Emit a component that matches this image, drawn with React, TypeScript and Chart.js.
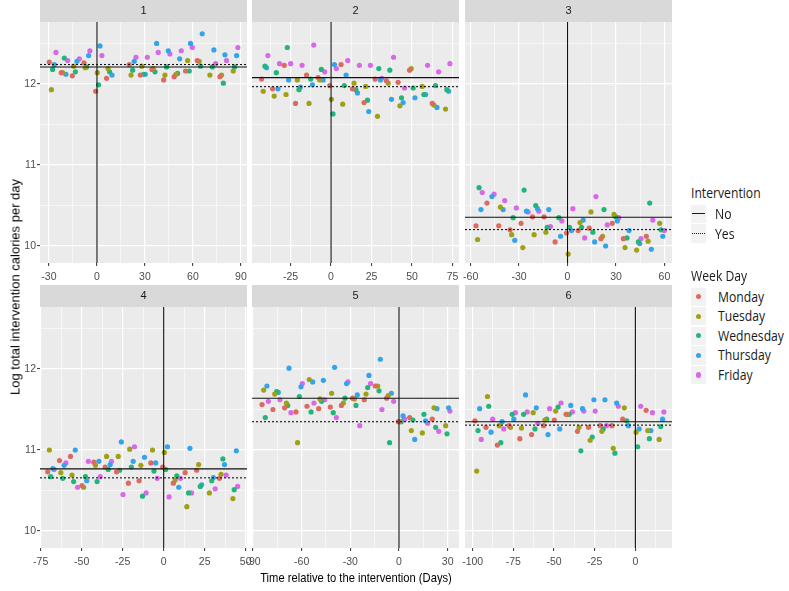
import React, { useEffect, useRef } from "react";
import { Chart, registerables } from "chart.js";

Chart.register(...registerables);
Chart.defaults.font.family = '"Liberation Sans", Arial, sans-serif';

type Pt = [number, number, string];

const WEEKDAY_NAMES = ["Monday", "Tuesday", "Wednesday", "Thursday", "Friday"];
const WEEKDAY_CODES = ["M", "T", "W", "R", "F"];
const WEEKDAY_COLORS = ["#DC6A60", "#A0A015", "#22B57A", "#34A4E8", "#D868E8"];
const PANEL_LABELS = ["1", "2", "3", "4", "5", "6"];

const P1: Pt[] = [
  [-29.8, 12.27, "M"], [-28.5, 11.93, "T"], [-27.7, 12.18, "W"], [-26.7, 12.24, "R"], [-25.6, 12.39, "F"],
  [-22.3, 12.14, "M"], [-21.5, 12.14, "T"], [-20.4, 12.32, "W"], [-19.4, 12.12, "R"], [-18.3, 12.29, "F"],
  [-15.4, 12.10, "M"], [-14.6, 12.22, "T"], [-13.5, 12.15, "W"], [-12.5, 12.28, "R"], [-11.0, 12.31, "F"],
  [-8.1, 12.26, "M"], [-7.3, 12.20, "T"], [-6.5, 12.21, "W"], [-5.2, 12.35, "R"], [-4.4, 12.41, "F"],
  [-0.8, 11.91, "M"], [0.2, 12.14, "T"], [1.0, 11.99, "W"], [1.9, 12.47, "R"], [3.1, 12.35, "F"],
  [6.0, 12.07, "M"], [6.9, 12.19, "T"], [7.9, 12.15, "W"], [9.4, 12.11, "R"],
  [20.2, 12.24, "M"], [21.3, 12.11, "T"], [22.3, 12.17, "W"], [23.3, 12.28, "R"], [24.4, 12.33, "F"],
  [27.1, 12.11, "M"], [28.1, 12.22, "T"], [29.2, 12.12, "W"], [30.2, 12.12, "R"], [31.5, 12.33, "F"],
  [34.4, 12.18, "M"], [35.2, 12.19, "T"], [36.3, 12.15, "W"], [37.3, 12.50, "R"], [38.3, 12.39, "F"],
  [41.7, 12.05, "M"], [42.5, 12.11, "T"], [43.5, 12.21, "W"], [44.6, 12.41, "R"], [45.6, 12.37, "F"],
  [48.3, 12.09, "M"], [49.4, 12.12, "T"], [50.4, 12.13, "W"], [51.7, 12.31, "R"], [52.7, 12.41, "F"],
  [55.4, 12.16, "M"], [56.7, 12.29, "T"], [57.7, 12.16, "W"], [58.5, 12.50, "R"], [59.6, 12.45, "F"],
  [62.7, 12.29, "M"], [63.9, 12.28, "T"], [64.8, 12.22, "W"], [65.8, 12.62, "R"],
  [70.6, 12.11, "T"], [72.1, 12.21, "W"], [73.1, 12.42, "R"], [74.2, 12.25, "F"],
  [76.9, 12.09, "M"], [77.9, 12.11, "T"], [79.0, 12.01, "W"], [80.0, 12.36, "R"], [81.0, 12.29, "F"],
  [85.2, 12.16, "T"], [86.0, 12.21, "W"], [87.3, 12.35, "R"], [88.1, 12.45, "F"],
];

const P2: Pt[] = [
  [-42.9, 12.06, "M"], [-41.9, 11.91, "T"], [-40.8, 12.22, "W"], [-39.8, 12.20, "R"], [-39.0, 12.35, "F"],
  [-36.1, 11.94, "M"], [-35.1, 11.85, "T"], [-33.8, 12.14, "W"], [-32.8, 11.94, "R"], [-31.8, 12.25, "F"],
  [-28.9, 12.23, "M"], [-27.8, 11.87, "T"], [-27.0, 12.45, "W"], [-26.2, 12.05, "R"], [-24.9, 12.25, "F"],
  [-21.9, 11.76, "M"], [-20.8, 12.05, "T"], [-19.8, 11.93, "W"], [-19.0, 11.96, "R"], [-17.9, 12.23, "F"],
  [-15.1, 12.11, "M"], [-13.6, 11.76, "T"], [-12.6, 12.06, "W"], [-11.5, 11.99, "R"], [-10.7, 12.48, "F"],
  [-8.0, 12.08, "M"], [-7.0, 12.05, "T"], [-6.0, 12.18, "W"], [-4.9, 12.05, "R"], [-3.9, 12.15, "F"],
  [-0.8, 11.98, "M"], [0.2, 11.81, "T"], [1.2, 11.63, "W"], [2.1, 12.24, "R"], [3.3, 12.19, "F"],
  [6.2, 12.24, "M"], [7.2, 11.75, "T"], [8.2, 11.98, "W"], [9.3, 12.11, "R"], [10.3, 12.29, "F"],
  [13.2, 11.94, "M"], [14.2, 12.01, "T"], [15.3, 11.93, "W"], [16.3, 11.89, "R"], [17.5, 12.23, "F"],
  [20.4, 11.77, "M"], [21.4, 11.97, "T"], [22.5, 11.80, "W"], [23.3, 11.66, "R"], [24.3, 12.23, "F"],
  [27.2, 12.06, "M"], [28.7, 11.60, "T"], [29.5, 12.19, "W"], [30.5, 12.05, "R"], [31.3, 12.07, "F"],
  [34.2, 12.04, "M"], [35.3, 12.01, "T"], [36.3, 12.17, "W"], [37.3, 11.81, "R"], [38.6, 12.33, "F"],
  [41.4, 12.02, "M"], [42.5, 11.73, "T"], [43.5, 11.83, "W"], [44.5, 11.77, "R"], [45.4, 11.95, "F"],
  [48.5, 12.17, "M"], [49.5, 12.19, "T"], [50.7, 11.95, "W"], [51.8, 11.83, "R"],
  [56.3, 11.97, "T"], [57.3, 11.87, "W"], [58.4, 11.87, "R"], [59.6, 12.23, "F"],
  [62.5, 11.76, "M"], [63.5, 11.74, "T"], [64.5, 11.98, "W"], [65.4, 11.71, "R"], [66.4, 12.15, "F"],
  [70.7, 11.69, "T"], [71.5, 11.93, "W"], [72.6, 11.91, "R"], [73.4, 12.25, "F"],
];

const P3: Pt[] = [
  [-56.7, 10.25, "M"], [-55.7, 10.08, "T"], [-54.8, 10.72, "W"], [-53.6, 10.45, "R"], [-52.8, 10.66, "F"],
  [-49.9, 10.53, "M"], [-46.8, 10.61, "R"], [-45.5, 10.64, "F"],
  [-42.6, 10.25, "M"], [-41.6, 10.48, "T"], [-39.9, 10.45, "R"], [-38.9, 10.56, "F"],
  [-35.6, 10.20, "M"], [-34.6, 10.14, "T"], [-33.7, 10.35, "W"], [-32.7, 10.07, "R"], [-31.7, 10.47, "F"],
  [-28.8, 10.28, "M"], [-27.7, 9.98, "T"], [-26.9, 10.69, "W"], [-25.4, 10.43, "R"], [-24.4, 10.42, "F"],
  [-21.7, 10.36, "M"], [-20.7, 10.14, "T"], [-19.7, 10.50, "W"], [-18.6, 10.46, "R"], [-17.8, 10.43, "F"],
  [-14.5, 10.36, "M"], [-13.4, 10.17, "T"], [-12.6, 10.23, "W"], [-11.6, 10.45, "R"], [-10.6, 10.24, "F"],
  [-7.7, 10.05, "M"], [-5.4, 10.35, "W"], [-4.3, 10.12, "R"], [-3.5, 10.31, "F"],
  [-0.6, 10.16, "M"], [0.4, 9.90, "T"], [1.2, 10.23, "W"], [2.5, 10.19, "R"], [3.3, 10.46, "F"],
  [6.6, 10.19, "M"], [7.7, 10.29, "T"], [8.7, 10.23, "W"], [9.7, 10.32, "R"], [10.6, 10.10, "F"],
  [13.4, 10.22, "M"], [14.5, 10.42, "T"], [15.7, 10.17, "W"], [16.8, 10.05, "R"], [17.6, 10.61, "F"],
  [20.7, 10.09, "M"], [21.7, 10.12, "T"], [22.6, 10.45, "W"], [23.6, 10.00, "R"], [24.6, 10.26, "F"],
  [27.7, 10.28, "M"], [28.8, 10.39, "T"], [29.8, 10.36, "W"], [30.8, 10.31, "R"], [31.7, 10.35, "F"],
  [34.6, 10.09, "M"], [35.6, 9.98, "T"], [36.8, 10.10, "W"], [38.1, 10.19, "R"],
  [42.8, 9.95, "T"], [43.9, 10.05, "W"], [44.7, 10.03, "R"], [45.5, 10.09, "F"],
  [48.8, 10.12, "M"], [49.9, 10.06, "T"], [50.9, 10.53, "W"], [51.9, 9.96, "R"], [52.8, 10.32, "F"],
  [57.1, 10.28, "T"], [57.9, 10.20, "W"], [59.0, 10.12, "R"], [60.0, 10.19, "F"],
];

const P4: Pt[] = [
  [-70.7, 10.73, "M"], [-69.7, 11.00, "T"], [-68.9, 10.67, "W"], [-67.6, 10.77, "R"], [-66.8, 10.76, "F"],
  [-63.5, 10.87, "M"], [-62.7, 10.72, "T"], [-61.5, 10.65, "W"], [-60.7, 10.81, "R"], [-59.6, 10.84, "F"],
  [-56.8, 10.92, "M"], [-55.9, 10.69, "T"], [-54.9, 10.61, "W"], [-53.9, 11.00, "R"], [-52.5, 10.54, "F"],
  [-49.8, 10.56, "M"], [-48.8, 10.54, "T"], [-47.7, 10.67, "W"], [-46.9, 10.62, "R"], [-45.9, 10.86, "F"],
  [-42.6, 10.85, "M"], [-41.6, 10.81, "T"], [-40.6, 10.61, "W"], [-39.5, 10.86, "R"], [-38.7, 10.67, "F"],
  [-35.7, 10.79, "M"], [-34.8, 10.92, "T"], [-33.8, 10.76, "W"], [-32.6, 10.82, "R"], [-31.8, 10.86, "F"],
  [-28.7, 10.73, "M"], [-27.7, 10.92, "T"], [-26.8, 10.75, "W"], [-25.8, 11.10, "R"], [-24.8, 10.45, "F"],
  [-21.5, 10.59, "M"], [-20.7, 11.01, "T"], [-19.7, 10.79, "W"], [-18.6, 10.86, "R"], [-17.8, 11.04, "F"],
  [-15.0, 10.62, "M"], [-13.9, 10.81, "T"], [-12.9, 10.43, "W"], [-11.7, 10.91, "R"], [-10.7, 10.47, "F"],
  [-7.8, 10.84, "M"], [-6.8, 11.00, "T"], [-5.9, 10.74, "W"], [-4.9, 10.84, "R"], [-3.9, 10.65, "F"],
  [-0.6, 10.79, "M"], [0.4, 10.97, "T"], [1.2, 10.76, "W"], [2.3, 11.04, "R"], [3.3, 10.42, "F"],
  [5.9, 10.59, "M"], [7.0, 10.63, "T"], [8.0, 10.68, "W"], [9.2, 10.54, "R"], [10.2, 10.65, "F"],
  [13.1, 10.72, "M"], [14.1, 10.30, "T"], [15.2, 10.47, "W"], [16.0, 11.02, "R"], [17.0, 10.47, "F"],
  [20.1, 10.75, "M"], [21.3, 10.82, "T"], [22.3, 10.55, "W"], [23.2, 10.57, "R"],
  [27.9, 10.47, "T"], [29.3, 10.62, "W"], [30.3, 10.66, "R"], [31.4, 10.52, "F"],
  [34.0, 10.65, "M"], [35.0, 10.70, "T"], [36.1, 10.89, "W"], [37.1, 10.82, "R"], [38.1, 10.69, "F"],
  [42.2, 10.40, "T"], [43.0, 10.51, "W"], [44.3, 10.99, "R"], [45.1, 10.55, "F"],
];

const P5: Pt[] = [
  [-84.4, 11.56, "M"], [-83.4, 11.74, "T"], [-82.4, 11.40, "W"], [-81.4, 11.79, "R"], [-80.5, 11.60, "F"],
  [-77.7, 11.50, "M"], [-76.6, 11.69, "T"], [-75.4, 11.72, "W"], [-74.4, 11.71, "R"], [-73.4, 11.62, "F"],
  [-70.5, 11.52, "M"], [-69.4, 11.58, "T"], [-68.6, 11.55, "W"], [-67.8, 12.01, "R"], [-66.6, 11.46, "F"],
  [-63.5, 11.47, "M"], [-62.5, 11.09, "T"], [-61.4, 11.66, "W"], [-60.4, 11.78, "R"], [-59.6, 11.82, "F"],
  [-56.7, 11.54, "M"], [-55.3, 11.87, "T"], [-54.2, 11.47, "W"], [-53.2, 11.84, "R"], [-52.4, 11.58, "F"],
  [-49.5, 11.51, "M"], [-48.7, 11.63, "T"], [-47.7, 11.60, "W"], [-46.6, 11.86, "R"], [-45.8, 11.62, "F"],
  [-42.3, 11.53, "M"], [-41.5, 11.70, "T"], [-40.5, 11.46, "W"], [-39.7, 12.02, "R"], [-38.6, 11.40, "F"],
  [-35.5, 11.55, "M"], [-34.3, 11.58, "T"], [-33.3, 11.64, "W"], [-32.3, 11.82, "R"], [-31.4, 11.84, "F"],
  [-28.6, 11.64, "M"], [-27.5, 11.63, "T"], [-26.5, 11.55, "W"], [-25.7, 11.68, "R"], [-24.2, 11.30, "F"],
  [-21.4, 11.62, "M"], [-20.3, 11.69, "T"], [-19.3, 11.77, "W"], [-18.5, 11.92, "R"], [-17.5, 11.82, "F"],
  [-14.6, 11.79, "M"], [-13.1, 11.79, "T"], [-12.3, 11.73, "W"], [-11.5, 12.12, "R"], [-10.5, 11.50, "F"],
  [-7.6, 11.64, "M"], [-6.6, 11.67, "T"], [-5.8, 11.09, "W"], [-4.7, 11.70, "R"], [-3.3, 11.60, "F"],
  [-0.4, 11.35, "M"], [0.4, 11.35, "T"], [1.4, 11.35, "W"], [2.5, 11.42, "R"], [3.5, 11.38, "F"],
  [6.6, 11.40, "M"], [7.6, 11.24, "T"], [8.6, 11.37, "W"], [9.7, 11.13, "R"],
  [14.4, 11.21, "T"], [15.4, 11.44, "W"], [16.4, 11.36, "R"], [17.7, 11.33, "F"],
  [20.5, 11.38, "M"], [21.6, 11.52, "T"], [22.6, 11.28, "W"], [23.4, 11.51, "R"], [24.5, 11.23, "F"],
  [28.8, 11.30, "T"], [29.6, 11.20, "W"], [30.6, 11.52, "R"], [31.4, 11.48, "F"],
];

const P6: Pt[] = [
  [-98.6, 11.36, "M"], [-97.5, 10.74, "T"], [-96.7, 11.24, "W"], [-95.7, 11.51, "R"], [-94.7, 11.13, "F"],
  [-91.8, 11.28, "M"], [-90.9, 11.66, "T"], [-90.1, 11.54, "W"], [-88.7, 11.22, "R"], [-87.7, 11.38, "F"],
  [-84.8, 11.06, "M"], [-83.7, 11.30, "T"], [-82.7, 11.09, "W"], [-81.9, 11.35, "R"], [-80.9, 11.26, "F"],
  [-77.6, 11.30, "M"], [-76.7, 11.28, "T"], [-75.7, 11.44, "W"], [-74.7, 11.38, "R"], [-73.7, 11.46, "F"],
  [-71.0, 11.14, "M"], [-70.0, 11.27, "T"], [-68.7, 11.44, "W"], [-67.5, 11.68, "R"], [-66.5, 11.47, "F"],
  [-63.8, 11.19, "M"], [-62.8, 11.46, "T"], [-61.7, 11.26, "W"], [-60.9, 11.52, "R"], [-59.9, 11.33, "F"],
  [-56.4, 11.30, "M"], [-55.6, 11.37, "T"], [-54.5, 11.38, "W"], [-53.7, 11.19, "R"], [-52.7, 11.51, "F"],
  [-49.8, 11.37, "M"], [-49.0, 11.48, "T"], [-47.5, 11.53, "W"], [-46.5, 11.26, "R"], [-45.7, 11.58, "F"],
  [-42.6, 11.44, "M"], [-41.8, 11.44, "T"], [-40.7, 11.44, "W"], [-39.7, 11.55, "R"], [-38.7, 11.47, "F"],
  [-35.6, 11.23, "M"], [-34.6, 11.28, "T"], [-33.5, 10.99, "W"], [-32.5, 11.51, "R"], [-31.7, 11.48, "F"],
  [-28.8, 11.28, "M"], [-27.8, 11.12, "T"], [-26.5, 11.16, "W"], [-25.5, 11.62, "R"], [-24.7, 11.48, "F"],
  [-21.6, 11.30, "M"], [-20.6, 11.23, "T"], [-19.8, 11.26, "W"], [-18.7, 11.62, "R"], [-17.7, 11.30, "F"],
  [-14.4, 11.30, "M"], [-13.6, 11.02, "T"], [-12.6, 10.96, "W"], [-11.5, 11.58, "R"], [-10.5, 11.54, "F"],
  [-7.8, 11.38, "M"], [-6.8, 11.52, "T"], [-5.3, 11.36, "W"], [-4.3, 11.30, "R"],
  [0.4, 11.22, "T"], [1.4, 11.04, "W"], [2.3, 11.26, "R"], [3.3, 11.54, "F"],
  [6.6, 11.49, "M"], [7.6, 11.24, "T"], [8.6, 11.14, "W"], [9.5, 11.24, "R"], [10.5, 11.46, "F"],
  [14.6, 11.13, "T"], [15.6, 11.29, "W"], [16.7, 11.38, "R"], [17.5, 11.47, "F"],
];

const PANEL_POINTS = [P1, P2, P3, P4, P5, P6];

// Mean levels: solid line = Intervention "No", dotted line = Intervention "Yes"
const LEVEL_NO = [12.21, 12.078, 10.355, 10.767, 11.639, 11.349];
const LEVEL_YES = [12.24, 11.967, 10.203, 10.656, 11.349, 11.307];

const X_RANGES = [
  [-35.6, 93.8], [-48.8, 79.0], [-63.5, 64.7],
  [-75.4, 50.8], [-90.6, 37.0], [-104.7, 22.5],
];
const X_MAJOR_TICKS = [
  [-30, 0, 30, 60, 90], [-25, 0, 25, 50, 75], [-60, -30, 0, 30, 60],
  [-75, -50, -25, 0, 25, 50], [-90, -60, -30, 0, 30], [-100, -75, -50, -25, 0],
];
const Y_RANGE = [9.79, 12.765];
const Y_MAJOR_TICKS = [10, 11, 12];

const INTERVENTION_LEVELS = ["No", "Yes"];

function withMinor(major: number[], min: number, max: number): number[] {
  const out: number[] = [];
  const step = major[1] - major[0];
  const mids = [major[0] - step / 2];
  for (let i = 0; i < major.length - 1; i++) mids.push((major[i] + major[i + 1]) / 2);
  mids.push(major[major.length - 1] + step / 2);
  for (const v of [...major, ...mids]) if (v >= min && v <= max) out.push(v);
  return out.sort((a, b) => a - b);
}

const bgPlugin = {
  id: "ggbg",
  beforeDraw(chart: any) {
    const { ctx, chartArea } = chart;
    ctx.save();
    ctx.fillStyle = "#EBEBEB";
    ctx.fillRect(chartArea.left, chartArea.top, chartArea.right - chartArea.left, chartArea.bottom - chartArea.top);
    const tb = chart.titleBlock;
    if (tb) {
      ctx.fillStyle = "#D9D9D9";
      ctx.fillRect(chartArea.left, tb.top, chartArea.right - chartArea.left, tb.bottom - tb.top);
    }
    ctx.restore();
  },
};

const SIDE_PAD = 16;

function buildConfig(i: number, showY: boolean): any {
  const [xmin, xmax] = X_RANGES[i];
  const xMajor = X_MAJOR_TICKS[i];
  const xTicks = withMinor(xMajor, xmin, xmax);
  const yTicks = withMinor(Y_MAJOR_TICKS, Y_RANGE[0], Y_RANGE[1]);
  const isMajorX = (v: number) => xMajor.includes(v);
  const isMajorY = (v: number) => Y_MAJOR_TICKS.includes(v);

  const datasets: any[] = [
    {
      data: [{ x: 0, y: Y_RANGE[0] }, { x: 0, y: Y_RANGE[1] }],
      showLine: true, borderColor: "#111111", borderWidth: 1.1, pointRadius: 0,
    },
    {
      data: [{ x: xmin, y: LEVEL_NO[i] }, { x: xmax, y: LEVEL_NO[i] }],
      showLine: true, borderColor: "#111111", borderWidth: 1.1, pointRadius: 0,
    },
    {
      data: [{ x: xmin, y: LEVEL_YES[i] }, { x: xmax, y: LEVEL_YES[i] }],
      showLine: true, borderColor: "#111111", borderWidth: 1.1, borderDash: [2, 2], pointRadius: 0,
    },
  ];
  WEEKDAY_CODES.forEach((code, k) => {
    datasets.push({
      label: WEEKDAY_NAMES[k],
      data: PANEL_POINTS[i].filter((p) => p[2] === code).map((p) => ({ x: p[0], y: p[1] })),
      backgroundColor: WEEKDAY_COLORS[k],
      borderWidth: 0,
      pointRadius: 2.6,
    });
  });

  return {
    type: "scatter",
    data: { datasets },
    plugins: [bgPlugin],
    options: {
      responsive: false,
      animation: false,
      events: [],
      devicePixelRatio: 1,
      layout: { padding: { left: showY ? 0 : SIDE_PAD, right: SIDE_PAD, top: 0, bottom: 0 } },
      plugins: {
        legend: { display: false },
        tooltip: { enabled: false },
        title: {
          display: true,
          text: PANEL_LABELS[i],
          fullSize: false,
          color: "#1A1A1A",
          font: { size: 11, weight: "normal" },
          padding: { top: 4.4, bottom: 4.4 },
        },
      },
      scales: {
        x: {
          type: "linear",
          min: xmin,
          max: xmax,
          afterBuildTicks: (s: any) => { s.ticks = xTicks.map((v) => ({ value: v })); },
          afterFit: (s: any) => { s.height = 22; },
          ticks: {
            autoSkip: false,
            maxRotation: 0,
            minRotation: 0,
            padding: 5,
            color: "#4D4D4D",
            font: { size: 10.5 },
            callback: (v: number) => (isMajorX(v) ? String(v) : ""),
          },
          grid: {
            color: "#FFFFFF",
            lineWidth: (c: any) => (c.tick && isMajorX(c.tick.value) ? 1.2 : 0.6),
            drawTicks: true,
            tickLength: 3,
            tickWidth: 1,
            tickColor: (c: any) => (c.tick && isMajorX(c.tick.value) ? "#333333" : "rgba(0,0,0,0)"),
          },
          border: { display: false },
        },
        y: {
          type: "linear",
          min: Y_RANGE[0],
          max: Y_RANGE[1],
          afterBuildTicks: (s: any) => { s.ticks = yTicks.map((v) => ({ value: v })); },
          afterFit: (s: any) => { s.width = showY ? 40 : 0; },
          ticks: {
            display: showY,
            padding: 1,
            color: "#4D4D4D",
            font: { size: 10.5 },
            callback: (v: number) => (isMajorY(v) ? String(v) : ""),
          },
          grid: {
            color: "#FFFFFF",
            lineWidth: (c: any) => (c.tick && isMajorY(c.tick.value) ? 1.2 : 0.6),
            drawTicks: showY,
            tickLength: 3,
            tickWidth: 1,
            tickColor: (c: any) => (c.tick && isMajorY(c.tick.value) ? "#333333" : "rgba(0,0,0,0)"),
          },
          border: { display: false },
        },
      },
    },
  };
}

function Panel(props: { index: number; left: number; top: number; width: number; height: number; showY: boolean }) {
  const ref = useRef<HTMLCanvasElement>(null);
  useEffect(() => {
    const chart = new Chart(ref.current as HTMLCanvasElement, buildConfig(props.index, props.showY));
    return () => chart.destroy();
  }, []);
  return (
    <canvas
      ref={ref}
      width={props.width}
      height={props.height}
      style={{ position: "absolute", left: props.left, top: props.top, width: props.width, height: props.height }}
    />
  );
}

const PLOT_LEFT = [40, 252, 465];
const PLOT_WIDTH = 207;
const Y_AXIS_WIDTH = 40;
const ROW_CANVAS_TOP = [0, 285];
const CANVAS_HEIGHT = 285;

const legendText: React.CSSProperties = {
  position: "absolute",
  fontFamily: '"Open Sans", "Noto Sans", sans-serif',
  fontSize: 14,
  color: "#1A1A1A",
  whiteSpace: "nowrap",
  transform: "translateY(-50%) scaleX(0.87)",
  transformOrigin: "left center",
  lineHeight: "18px",
};

export default function App() {
  const panels = [];
  for (let i = 0; i < 6; i++) {
    const col = i % 3;
    const row = Math.floor(i / 3);
    const showY = col === 0;
    const leftPad = showY ? Y_AXIS_WIDTH : SIDE_PAD;
    panels.push(
      <Panel
        key={i}
        index={i}
        left={PLOT_LEFT[col] - leftPad}
        top={ROW_CANVAS_TOP[row]}
        width={leftPad + PLOT_WIDTH + SIDE_PAD}
        height={CANVAS_HEIGHT}
        showY={showY}
      />
    );
  }
  const weekCenters = [296.7, 316.2, 335.8, 355.4, 375];
  const interCenters = [214, 233.5];
  return (
    <div style={{ position: "absolute", left: 0, top: 0, width: 789, height: 591, background: "#FFFFFF", overflow: "hidden" }}>
      {panels}
      <div
        style={{
          position: "absolute", left: 15, top: 287, whiteSpace: "nowrap",
          fontFamily: '"Liberation Sans", Arial, sans-serif', fontSize: 13, color: "#000",
          transform: "translate(-50%, -50%) rotate(-90deg)",
        }}
      >
        Log total intervention calories per day
      </div>
      <div
        style={{
          position: "absolute", left: 355.5, top: 577, whiteSpace: "nowrap",
          fontFamily: '"Liberation Sans", Arial, sans-serif', fontSize: 13, color: "#000",
          transform: "translate(-50%, -50%) scaleX(0.86)",
        }}
      >
        Time relative to the intervention (Days)
      </div>

      <div style={{ ...legendText, left: 691, top: 193 }}>Intervention</div>
      {INTERVENTION_LEVELS.map((lab, k) => (
        <React.Fragment key={lab}>
          <div style={{ position: "absolute", left: 690.5, top: interCenters[k] - 9.2, width: 15.5, height: 18.4, background: "#F2F2F2" }}>
            <div
              style={{
                position: "absolute", left: 1.5, right: 1.5, top: 8.7, height: 0,
                borderTop: k === 0 ? "1.3px solid #1a1a1a" : "1.3px dotted #1a1a1a",
              }}
            />
          </div>
          <div style={{ ...legendText, left: 715, top: interCenters[k] }}>{lab}</div>
        </React.Fragment>
      ))}

      <div style={{ ...legendText, left: 691, top: 276 }}>Week Day</div>
      {WEEKDAY_NAMES.map((name, k) => (
        <React.Fragment key={name}>
          <div style={{ position: "absolute", left: 690.5, top: weekCenters[k] - 9.2, width: 15.5, height: 18.4, background: "#F2F2F2" }}>
            <div
              style={{
                position: "absolute", left: 5.2, top: 6.6, width: 5.2, height: 5.2,
                borderRadius: "50%", background: WEEKDAY_COLORS[k],
              }}
            />
          </div>
          <div style={{ ...legendText, left: 718, top: weekCenters[k] }}>{name}</div>
        </React.Fragment>
      ))}
    </div>
  );
}
